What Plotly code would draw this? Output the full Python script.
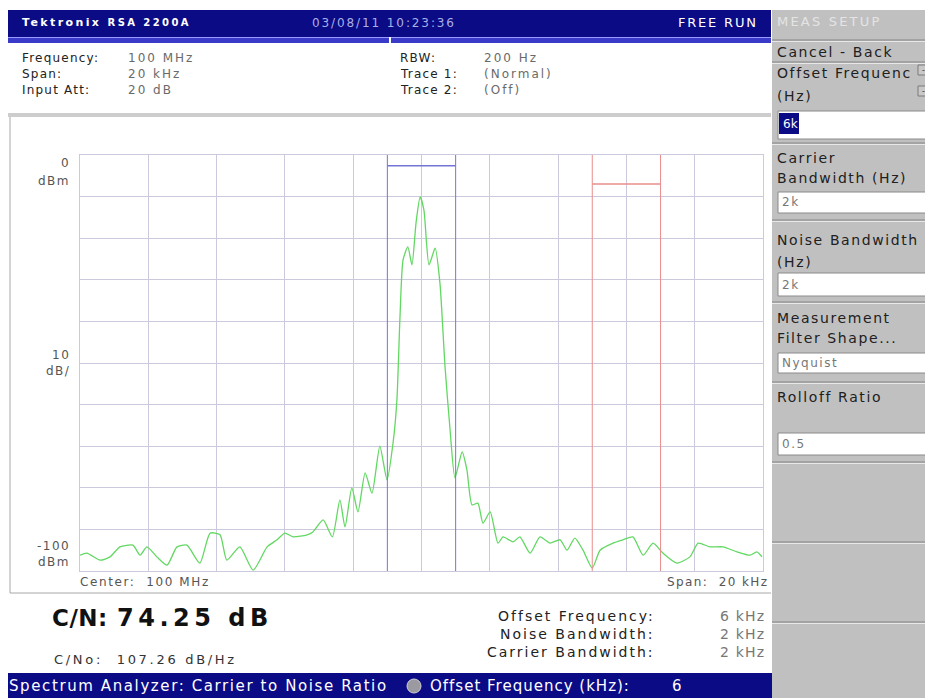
import plotly.graph_objects as go

# trace: offset from centre (kHz) and level (dBm)
freq_khz = [-10.0, -9.80, -9.41, -9.12, -8.83, -8.45, -8.24, -8.04, -7.75, -7.45,
            -7.16, -6.87, -6.49, -6.19, -5.90, -5.70, -5.32, -4.93, -4.52, -4.23,
            -4.00, -3.76, -3.35, -3.18, -2.88, -2.61, -2.39, -2.24, -2.04, -1.86,
            -1.65, -1.45, -1.22, -1.01, -0.83, -0.72, -0.63, -0.54, -0.40, -0.28,
            -0.16, -0.04, 0.07, 0.22, 0.40, 0.54, 0.69, 0.83, 0.98, 1.19,
            1.33, 1.48, 1.65, 1.80, 2.01, 2.24, 2.39, 2.68, 2.88, 3.18,
            3.47, 3.76, 4.06, 4.26, 4.49, 4.73, 5.00, 5.23, 5.61, 5.90,
            6.19, 6.49, 6.78, 7.07, 7.48, 7.86, 8.10, 8.45, 8.83, 9.24,
            9.62, 9.82, 9.97]
level_dbm = [-96.2, -95.7, -97.4, -96.6, -94.2, -93.8, -96.2, -94.2, -96.6, -98.6,
             -94.2, -93.8, -98.1, -90.9, -91.3, -97.4, -94.2, -99.8, -94.2, -92.5,
             -90.9, -91.8, -91.3, -90.6, -87.7, -91.8, -82.9, -89.4, -80.0, -85.8,
             -76.4, -81.3, -70.0, -78.1, -69.0, -58.9, -38.9, -25.2, -22.1, -26.4,
             -16.3, -10.1, -13.2, -26.4, -22.4, -30.8, -51.0, -65.4, -77.6, -71.4,
             -75.7, -84.1, -83.7, -88.5, -85.8, -93.3, -91.8, -93.0, -91.8, -95.7,
             -91.8, -93.3, -92.5, -95.0, -92.1, -95.0, -99.3, -95.0, -93.3, -92.5,
             -91.8, -96.2, -93.3, -95.7, -98.1, -96.6, -93.3, -94.2, -94.2, -95.4,
             -96.2, -95.4, -96.6]

# instrument settings / results shown on screen
header_left = [("Frequency:", "100 MHz"), ("Span:", "20 kHz"), ("Input Att:", "20 dB")]
header_right = [("RBW:", "200 Hz"), ("Trace 1:", "(Normal)"), ("Trace 2:", "(Off)")]
span_khz = 20
ref_dbm = 0
bottom_dbm = -100
carrier_bw_khz = 2
offset_khz = 6
noise_bw_khz = 2
cn_text = "74.25 dB"
cno_text = "107.26 dB/Hz"
results = [("Offset Frequency:", "6 kHz"), ("Noise Bandwidth:", "2 kHz"),
           ("Carrier Bandwidth:", "2 kHz")]
menu_boxes = ["6k", "2k", "2k", "Nyquist", "0.5"]

# page is drawn with the browser's 8px body margin, so work in page pixels
OFF = 8
W, H = 933 - OFF, 698 - OFF
NAVY = "#0b0b86"
PANEL = "#c0c0c0"
FONT = "DejaVu Sans"


def px(x):
    return (x - OFF) / W


def py(y):
    return 1 - (y - OFF) / H


shapes = []
ann = []


def rect(x0, y0, x1, y1, fill, line=None):
    shapes.append(dict(type="rect", xref="paper", yref="paper", x0=px(x0), x1=px(x1),
                       y0=py(y1), y1=py(y0), fillcolor=fill, layer="below",
                       line=dict(width=1 if line else 0, color=line or fill)))


def hline(x0, x1, y, color, width=1):
    shapes.append(dict(type="line", xref="paper", yref="paper", x0=px(x0), x1=px(x1),
                       y0=py(y), y1=py(y), line=dict(color=color, width=width)))


def vline(x, y0, y1, color, width=1):
    shapes.append(dict(type="line", xref="paper", yref="paper", x0=px(x), x1=px(x),
                       y0=py(y0), y1=py(y1), line=dict(color=color, width=width)))


def txt(x, y, s, size=12, color="#222222", anchor="left", bold=False, sp=0.8):
    ann.append(dict(x=px(x), y=py(y), xref="paper", yref="paper", showarrow=False,
                    text=f'<span style="letter-spacing:{sp}px">{s}</span>',
                    xanchor=anchor, yanchor="middle",
                    font=dict(family=FONT, size=size, color=color,
                              weight="bold" if bold else "normal")))


# screen backgrounds
rect(0, 10, 771, 37, NAVY)
rect(0, 37, 771, 43, "#3a3ac8")
hline(0, 771, 37.5, "#9a9aff")
vline(390, 37, 43, "#ffffff", 2)
rect(0, 113, 771, 117, "#cdcdcd")
vline(10, 117, 593, "#a8a8a8")
hline(10, 771, 593, "#a8a8a8")
rect(0, 673, 772, 700, NAVY)
rect(772, 10, 935, 700, PANEL)

# top bar
txt(20, 23, "Tektronix <span style='font-size:10px'>RSA 2200A</span>", 11, "#ffffff", bold=True, sp=2.4)
txt(310, 23, "03/08/11 10:23:36", 12, "#a9b0e8", sp=1.9)
txt(760, 23, "FREE RUN", 13, "#ffffff", anchor="right", sp=1.8)

# header info
for i, (k, v) in enumerate(header_left):
    txt(20, 58 + 16 * i, k, 12, "#222222", sp=1.2)
    txt(126, 58 + 16 * i, v, 12, "#6a6a6a", sp=2.0)
for i, (k, v) in enumerate(header_right):
    txt(398, 58 + 16 * i, k, 12, "#222222", sp=1.2)
    txt(482, 58 + 16 * i, v, 12, "#6a6a6a", sp=2.0)

# y scale labels
for s, y in [("0", 163), ("dBm", 181), ("10", 355), ("dB/", 371), ("-100", 546), ("dBm", 562)]:
    txt(72, y, s, 12, "#555555", anchor="right", sp=1.5)
txt(78, 582, "Center:  100 MHz", 12, "#555555", sp=1.6)
txt(770, 582, f"Span:  {span_khz} kHz", 12, "#555555", anchor="right", sp=1.4)

# results
txt(50, 618, "C/N:", 23, "#111111", bold=True, sp=0.5)
txt(115, 618, cn_text, 24, "#111111", bold=True, sp=4.5)
txt(52, 659, "C/No:  " + cno_text, 13, "#333333", sp=2.7)
for i, (k, v) in enumerate(results):
    txt(657, 616 + 18 * i, k, 14, "#222222", anchor="right", sp=2.0)
    txt(767, 616 + 18 * i, v, 14, "#777777", anchor="right", sp=1.2)

# status bar
txt(7, 686, "Spectrum Analyzer: Carrier to Noise Ratio", 15, "#ffffff", sp=1.6)
shapes.append(dict(type="circle", xref="paper", yref="paper", x0=px(407), x1=px(421),
                   y0=py(693), y1=py(679), fillcolor="#9a9aa0", line=dict(color="#d0d0d0", width=1)))
txt(428, 686, "Offset Frequency (kHz):", 15, "#ffffff", sp=1.0)
txt(670, 686, str(offset_khz), 15, "#ffffff", sp=0)

# side menu
txt(775, 21, "MEAS SETUP", 13, "#e4e4e4", sp=2.2)
for y in [40, 62, 143, 220, 302, 382, 462, 542, 622]:
    hline(772, 935, y, "#868686")
    hline(772, 935, y + 1.5, "#e8e8e8")
menu_text = [("Cancel - Back", 52), ("Offset Frequenc", 73), ("(Hz)", 96),
             ("Carrier", 158), ("Bandwidth (Hz)", 178), ("Noise Bandwidth", 240),
             ("(Hz)", 262), ("Measurement", 318), ("Filter Shape...", 338),
             ("Rolloff Ratio", 397)]
for s, y in menu_text:
    txt(775, y, s, 14, "#202020", sp=1.6)
rect(912, 62, 933, 104, PANEL)
for y in [70, 91]:
    rect(918, y - 5, 929, y + 5, "#c8c8c8", "#7a7a7a")
    txt(923.5, y, "-", 8, "#333333", anchor="center", sp=0)
box_y = [(111, 139), (192, 213), (273, 296), (353, 373), (433, 455)]
for (y0, y1), v in zip(box_y, menu_boxes):
    rect(778, y0, 929, y1, "#ffffff", "#8a8a8a")
    if v == menu_boxes[0]:
        rect(779, y0 + 2, 799, y1 - 5, NAVY)
        txt(781, (y0 + y1) / 2 - 1, v, 12, "#ffffff", sp=0)
    else:
        txt(780, (y0 + y1) / 2, v, 12, "#777777", sp=1.5)

fig = go.Figure()
fig.add_trace(go.Scatter(x=freq_khz, y=level_dbm, mode="lines",
                         line=dict(color="#62d862", width=1.3, shape="spline", smoothing=0.6),
                         hoverinfo="skip"))

# carrier band (blue) and noise band (red) markers
half = span_khz / 2
for x in [-carrier_bw_khz / 2, carrier_bw_khz / 2]:
    fig.add_shape(type="line", x0=x, x1=x, y0=bottom_dbm, y1=ref_dbm,
                  line=dict(color="#7474d6", width=1))
for x in [offset_khz - noise_bw_khz / 2, offset_khz + noise_bw_khz / 2]:
    fig.add_shape(type="line", x0=x, x1=x, y0=bottom_dbm, y1=ref_dbm,
                  line=dict(color="#e88c8c", width=1))
fig.add_shape(type="line", x0=-carrier_bw_khz / 2, x1=carrier_bw_khz / 2, y0=-2.6, y1=-2.6,
              line=dict(color="#7474d6", width=1.5))
fig.add_shape(type="line", x0=offset_khz - noise_bw_khz / 2, x1=offset_khz + noise_bw_khz / 2,
              y0=-7, y1=-7, line=dict(color="#e88c8c", width=1.5))

for s in shapes:
    fig.add_shape(s)

fig.update_layout(
    width=W, height=H, margin=dict(l=0, r=0, t=0, b=0), autosize=False,
    paper_bgcolor="#ffffff", plot_bgcolor="rgba(0,0,0,0)", showlegend=False,
    annotations=ann,
    xaxis=dict(domain=[px(80), px(763)], range=[-half, half], dtick=2, showgrid=True,
               gridcolor="#cacadc", zeroline=False, showticklabels=False, ticks="",
               showline=True, linecolor="#cacadc", mirror=True, fixedrange=True),
    yaxis=dict(domain=[py(571), py(155)], range=[bottom_dbm, ref_dbm], dtick=10,
               showgrid=True, gridcolor="#cacadc", zeroline=False, showticklabels=False,
               ticks="", showline=True, linecolor="#cacadc", mirror=True, fixedrange=True),
)

fig.write_html("out.html")
